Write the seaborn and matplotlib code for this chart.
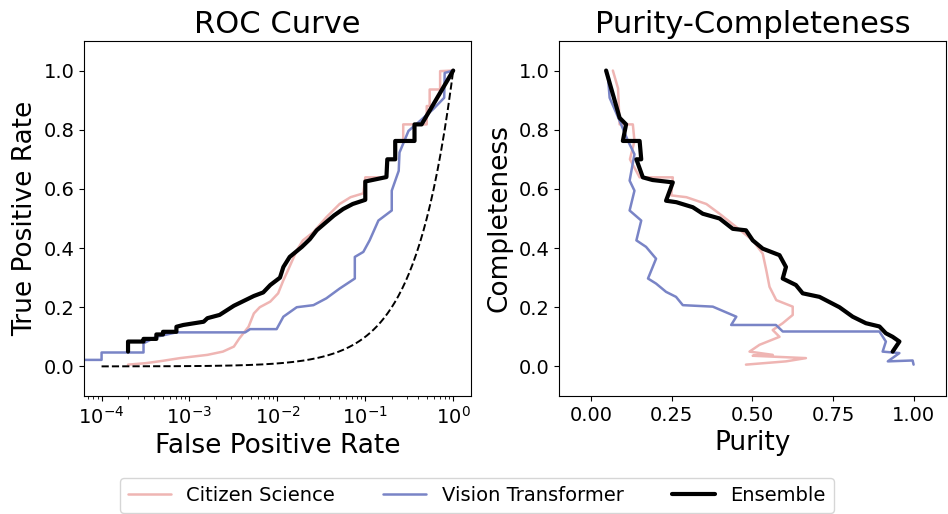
import numpy as np
import pandas as pd
import matplotlib
matplotlib.use('Agg')
import matplotlib.pyplot as plt
import seaborn as sns

# ROC curves (false positive rate, true positive rate)
cs_fpr = [2e-4, 3.2e-4, 5.0e-4, 7.8e-4, 1.6e-3, 2.4e-3, 3.2e-3, 3.7e-3, 4.7e-3, 5.4e-3,
          6.3e-3, 8.3e-3, 1.02e-2, 1.17e-2, 1.32e-2, 1.66e-2, 1.95e-2, 2.57e-2, 3.6e-2, 5.1e-2,
          6.8e-2, 9.5e-2, 0.1, 0.174, 0.178, 0.22, 0.22, 0.27, 0.27, 0.50,
          0.50, 0.54, 0.54, 0.71, 0.71, 1.0]
cs_tpr = [0.006, 0.011, 0.019, 0.028, 0.039, 0.05, 0.067, 0.095, 0.134, 0.179,
          0.20, 0.219, 0.247, 0.291, 0.325, 0.392, 0.426, 0.454, 0.504, 0.549,
          0.572, 0.585, 0.639, 0.639, 0.70, 0.70, 0.762, 0.762, 0.818, 0.818,
          0.88, 0.88, 0.936, 0.936, 0.998, 1.0]

vit_fpr = [1e-5, 1e-4, 1e-4, 3.0e-4, 3.0e-4, 4.2e-4, 7.1e-4, 4.3e-3, 4.9e-3, 9.8e-3,
           1.17e-2, 1.66e-2, 2.57e-2, 3.6e-2, 5.1e-2, 7.6e-2, 7.6e-2, 9.5e-2, 0.112, 0.141,
           0.20, 0.20, 0.24, 0.245, 0.31, 0.42, 0.59, 0.79, 0.80, 1.0]
vit_tpr = [0.022, 0.022, 0.047, 0.047, 0.078, 0.10, 0.115, 0.115, 0.126, 0.126,
           0.168, 0.20, 0.207, 0.23, 0.263, 0.297, 0.37, 0.387, 0.426, 0.493,
           0.527, 0.594, 0.661, 0.723, 0.796, 0.83, 0.869, 0.908, 0.992, 1.0]

ens_fpr = [2e-4, 2e-4, 3.0e-4, 3.0e-4, 4.2e-4, 4.2e-4, 5.0e-4, 5.0e-4, 7.1e-4, 7.1e-4,
           8.5e-4, 1.45e-3, 1.6e-3, 2.2e-3, 3.2e-3, 5.4e-3, 6.9e-3, 8.3e-3, 1.07e-2, 1.17e-2,
           1.38e-2, 1.9e-2, 2.34e-2, 2.8e-2, 4.4e-2, 5.6e-2, 7.2e-2, 0.1, 0.1, 0.174,
           0.178, 0.219, 0.219, 0.363, 0.363, 0.437, 1.0]
ens_tpr = [0.05, 0.084, 0.084, 0.093, 0.093, 0.108, 0.108, 0.117, 0.117, 0.134,
           0.14, 0.151, 0.163, 0.174, 0.205, 0.238, 0.25, 0.275, 0.30, 0.336,
           0.37, 0.404, 0.43, 0.46, 0.51, 0.532, 0.549, 0.563, 0.625, 0.64,
           0.70, 0.70, 0.762, 0.762, 0.818, 0.818, 1.0]

# Purity-completeness curves
cs_pur = [0.067, 0.083, 0.088, 0.129, 0.134, 0.12, 0.15, 0.253, 0.248, 0.295,
          0.357, 0.398, 0.45, 0.501, 0.532, 0.543, 0.553, 0.574, 0.625, 0.625,
          0.594, 0.563, 0.584, 0.522, 0.491, 0.563, 0.501, 0.666, 0.604, 0.48]
cs_comp = [1.0, 0.94, 0.818, 0.818, 0.762, 0.70, 0.639, 0.639, 0.578, 0.572,
           0.549, 0.516, 0.471, 0.426, 0.381, 0.325, 0.269, 0.224, 0.202, 0.174,
           0.146, 0.123, 0.10, 0.073, 0.05, 0.039, 0.036, 0.028, 0.017, 0.006]

vit_pur = [0.052, 0.057, 0.088, 0.114, 0.134, 0.119, 0.134, 0.119, 0.155, 0.14,
           0.17, 0.201, 0.176, 0.201, 0.232, 0.263, 0.284, 0.377, 0.45, 0.434,
           0.573, 0.594, 0.894, 0.914, 0.904, 0.956, 0.92, 0.997, 1.0]
vit_comp = [0.975, 0.908, 0.83, 0.762, 0.717, 0.628, 0.594, 0.527, 0.493, 0.426,
            0.404, 0.364, 0.297, 0.28, 0.252, 0.235, 0.207, 0.202, 0.168, 0.14,
            0.14, 0.118, 0.118, 0.084, 0.05, 0.045, 0.017, 0.02, 0.006]

ens_pur = [0.046, 0.088, 0.108, 0.098, 0.15, 0.155, 0.14, 0.16, 0.19, 0.253,
           0.232, 0.264, 0.315, 0.346, 0.398, 0.439, 0.48, 0.501, 0.532, 0.584,
           0.604, 0.594, 0.635, 0.656, 0.708, 0.77, 0.811, 0.852, 0.894, 0.914,
           0.935, 0.956, 0.935]
ens_comp = [1.0, 0.84, 0.818, 0.762, 0.762, 0.70, 0.70, 0.639, 0.63, 0.622,
            0.56, 0.555, 0.538, 0.516, 0.50, 0.465, 0.46, 0.426, 0.398, 0.376,
            0.336, 0.297, 0.275, 0.247, 0.235, 0.20, 0.168, 0.146, 0.135, 0.112,
            0.10, 0.084, 0.05]

# chance line (y = x) for the ROC panel
chance_fpr = np.logspace(-4, 0, 200)
chance_tpr = chance_fpr

labels = ["Citizen Science", "Vision Transformer", "Ensemble"]
colors = ["#efb5b3", "#7984c6", "black"]
widths = [1.8, 1.8, 3]


def main():
    sns.set_style('ticks', {'axes.edgecolor': 'black', 'text.color': 'black',
                            'xtick.color': 'black', 'ytick.color': 'black',
                            'axes.labelcolor': 'black'})
    plt.rcParams['font.family'] = ['DejaVu Sans']

    fig = plt.figure(figsize = (9.48, 5.14), dpi = 100)
    ax1 = fig.add_axes([0.0886, 0.2296, 0.408, 0.6907])
    ax2 = fig.add_axes([0.5897, 0.2296, 0.408, 0.6907])

    ## ROC
    ax1.set_xscale('log')
    roc = [(cs_fpr, cs_tpr), (vit_fpr, vit_tpr), (ens_fpr, ens_tpr)]
    for (x, y), lab, c, lw in zip(roc, labels, colors, widths):
        df = pd.DataFrame({"x": x, "y": y})
        sns.lineplot(data = df, x = "x", y = "y", sort = False, estimator = None,
                     color = c, lw = lw, label = lab, ax = ax1)
    sns.lineplot(x = chance_fpr, y = chance_tpr, sort = False, estimator = None,
                 color = "black", lw = 1.4, ls = "--", ax = ax1)
    ax1.set_xlim(10 ** -4.2, 10 ** 0.2)
    ax1.set_ylim(-0.1, 1.1)
    ax1.set_yticks([0, 0.2, 0.4, 0.6, 0.8, 1.0])
    ax1.set_xlabel("False Positive Rate", fontsize = 19)
    ax1.set_ylabel("True Positive Rate", fontsize = 19)
    ax1.set_title("ROC Curve", fontsize = 22)
    ax1.tick_params(labelsize = 14)

    ## purity-completeness
    pc = [(cs_pur, cs_comp), (vit_pur, vit_comp), (ens_pur, ens_comp)]
    for (x, y), lab, c, lw in zip(pc, labels, colors, widths):
        df = pd.DataFrame({"x": x, "y": y})
        sns.lineplot(data = df, x = "x", y = "y", sort = False, estimator = None,
                     color = c, lw = lw, ax = ax2)
    ax2.set_xlim(-0.1, 1.1)
    ax2.set_ylim(-0.1, 1.1)
    ax2.set_xticks([0, 0.25, 0.5, 0.75, 1.0])
    ax2.set_yticks([0, 0.2, 0.4, 0.6, 0.8, 1.0])
    ax2.set_xlabel("Purity", fontsize = 19)
    ax2.set_ylabel("Completeness", fontsize = 19)
    ax2.set_title("Purity-Completeness", fontsize = 22)
    ax2.tick_params(labelsize = 14)

    handles, labs = ax1.get_legend_handles_labels()
    ax1.get_legend().remove()
    fig.legend(handles, labs, loc = "lower center", bbox_to_anchor = (0.503, -0.017),
               ncol = 3, fontsize = 14, frameon = True, columnspacing = 2.5,
               handlelength = 2.2)

    fig.savefig("out.png", dpi = 100)
    plt.close()


if __name__ == '__main__':
    main()
